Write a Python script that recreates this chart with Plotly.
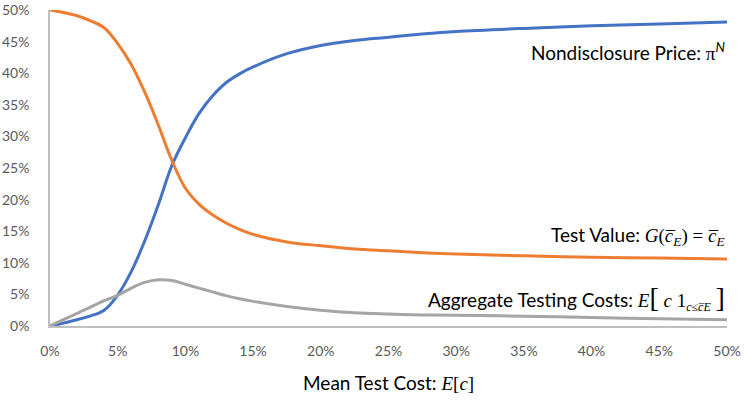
import plotly.graph_objects as go

# Mean test cost E[c] (fraction)
mean_cost = [0, .01, .02, .03, .04, .05, .06, .07, .08, .09, .10, .11, .12, .13, .14, .15,
             .175, .20, .225, .25, .275, .30, .35, .40, .45, .50]
# Nondisclosure price pi^N
nondisclosure_price = [0, .0045, .010, .016, .025, .049, .086, .135, .192, .254, .298, .336, .364, .385,
                       .399, .410, .431, .444, .452, .457, .462, .466, .471, .475, .478, .481]
# Test value G(c_E) = c_E
test_value = [.500, .496, .491, .483, .472, .447, .414, .370, .318, .262, .218, .193, .176, .163,
              .153, .145, .133, .127, .122, .119, .116, .114, .111, .109, .1075, .106]
# Aggregate testing costs
testing_costs = [0, .010, .020, .030, .040, .0485, .060, .069, .073, .072, .066, .060, .054, .048,
                 .043, .039, .031, .025, .021, .019, .0175, .017, .0155, .0135, .0115, .010]

x_ticks = [0, .05, .10, .15, .20, .25, .30, .35, .40, .45, .50]
y_ticks = [0, .05, .10, .15, .20, .25, .30, .35, .40, .45, .50]

BLUE, ORANGE, GRAY = "#4472C4", "#ED7D31", "#A5A5A5"
SANS = "Lato"
SERIF = "Liberation Serif"

fig = go.Figure()
for ys, col in [(nondisclosure_price, BLUE), (test_value, ORANGE), (testing_costs, GRAY)]:
    fig.add_trace(go.Scatter(x=mean_cost, y=ys, mode="lines",
                             line=dict(color=col, width=3, shape="spline", smoothing=1.0),
                             showlegend=False, hoverinfo="skip", cliponaxis=False))

def m(s):
    return f'<span style="font-family:{SERIF}">{s}</span>'

ann_font = dict(family=SANS, size=19, color="#000000")
fig.add_annotation(x=0.5, y=0.4345, xref="x", yref="y", xanchor="right", yanchor="middle",
                   showarrow=False, font=ann_font,
                   text="Nondisclosure Price: " + m("π") + "<sup><i>N</i></sup>")
fig.add_annotation(x=0.5, y=0.1427, xref="x", yref="y", xanchor="right", yanchor="middle",
                   showarrow=False, font=ann_font,
                   text="Test Value: " + m("<i>G</i>(<i>c̅</i><sub><i>E</i></sub>) = <i>c̅</i><sub><i>E</i></sub>"))
fig.add_annotation(x=0.5, y=0.045, xref="x", yref="y", xanchor="right", yanchor="middle",
                   showarrow=False, font=ann_font,
                   text="Aggregate Testing Costs: " + m("<i>E</i><span style=\"font-size:28px\">[</span> <i>c</i> 1<sub><span style=\"font-size:12px\"><i>c</i>≤<i>c̅</i><i>E</i></span></sub> <span style=\"font-size:28px\">]</span>"))
fig.add_annotation(x=0.5, y=-0.18, xref="paper", yref="paper", xanchor="center", yanchor="middle",
                   showarrow=False, font=dict(family=SANS, size=19, color="#000000"),
                   text="Mean Test Cost: " + m("<i>E</i>[<i>c</i>]"))

tick_font = dict(family=SANS, size=14, color="#595959")
fig.update_xaxes(range=[0, 0.5], tickvals=x_ticks, tickformat=".0%", showgrid=False, zeroline=False,
                 showline=True, linecolor="#BFBFBF", linewidth=1.5, tickfont=tick_font,
                 ticks="", ticklabelstandoff=11, ticklabeloverflow="allow", automargin=False)
fig.update_yaxes(range=[0, 0.5001], tickvals=y_ticks, tickformat=".0%", showgrid=False, zeroline=False,
                 showline=True, linecolor="#BFBFBF", linewidth=1.5, tickfont=tick_font,
                 ticks="", ticklabelstandoff=16, ticklabeloverflow="allow", automargin=False)
fig.update_layout(width=748, height=404, margin=dict(l=50, r=21, t=10, b=78),
                  plot_bgcolor="white", paper_bgcolor="white")
fig.write_html("out.html")
